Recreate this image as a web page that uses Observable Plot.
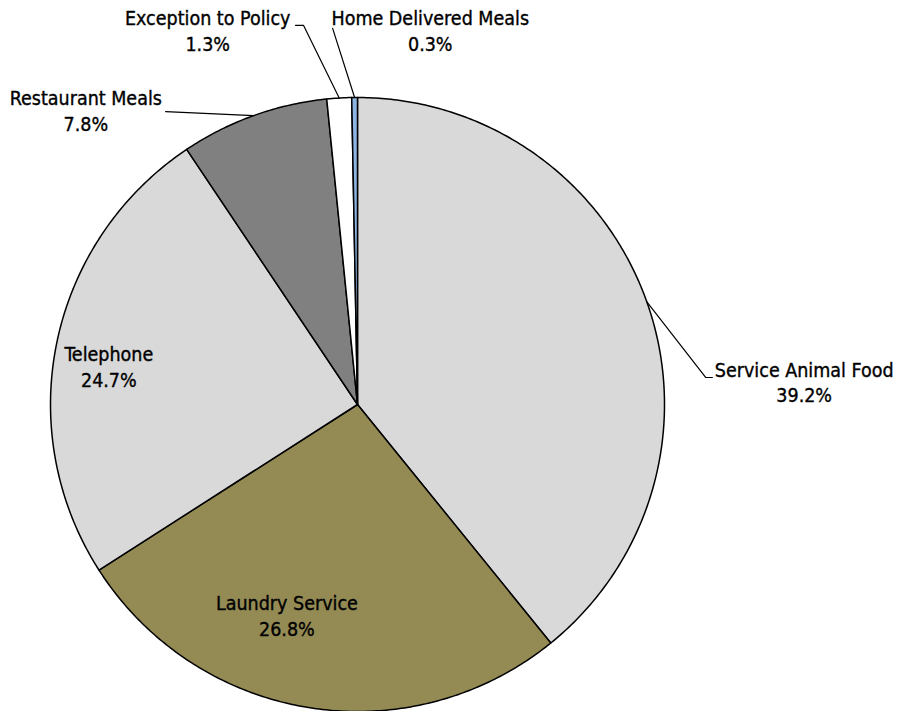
<!DOCTYPE html>
<html><head><meta charset="utf-8">
<script src="https://cdn.jsdelivr.net/npm/d3@7"></script>
<script src="https://cdn.jsdelivr.net/npm/@observablehq/plot@0.6"></script>
<style>
html,body{margin:0;padding:0;background:#fff;}
#chart{width:898px;height:711px;}
</style>
</head><body><div id="chart"></div>
<script>
// ---- data ----
const categories = ["Service Animal Food","Laundry Service","Telephone","Restaurant Meals","Exception to Policy","Home Delivered Meals"];
const values = [39.2, 26.8, 24.7, 7.8, 1.3, 0.3];
const valueLabels = ["39.2%","26.8%","24.7%","7.8%","1.3%","0.3%"];
const colors = ["#d9d9d9","#948a54","#d9d9d9","#808080","#ffffff","#8db4e2"];

// ---- layout (unit-circle coordinates, radius = 1) ----
const W = 898, H = 711, R = 307, CX = 357, CY = 404;
const labelPos = [
  [1.455, 0.076],  // Service Animal Food
  [-0.23, -0.685], // Laundry
  [-0.81, 0.125],  // Telephone
  [-0.885, 0.96],  // Restaurant
  [-0.488, 1.22],  // Exception
  [0.237, 1.22]    // Home Delivered
];
// leader points on the label side, null = none
const leaderEnds = [
  [[1.134, 0.088],[1.156, 0.088]],
  null,
  null,
  [[-0.625, 0.954]],
  [[-0.176, 1.235],[-0.202, 1.235]],
  [[-0.081, 1.225]]
];

const pie = d3.pie().sort(null).value(d => d)(values);
const slices = [];
pie.forEach((p, i) => {
  const n = Math.max(4, Math.ceil((p.endAngle - p.startAngle) / 0.01));
  slices.push({cat: categories[i], u: 0, v: 0});
  for (let j = 0; j <= n; j++) {
    const a = p.startAngle + (p.endAngle - p.startAngle) * j / n;
    slices.push({cat: categories[i], u: Math.sin(a), v: Math.cos(a)});
  }
  slices.push({cat: categories[i], u: 0, v: 0});
});

const leaders = [];
pie.forEach((p, i) => {
  if (!leaderEnds[i]) return;
  const a = (p.startAngle + p.endAngle) / 2;
  leaders.push({cat: categories[i], u: Math.sin(a), v: Math.cos(a)});
  leaderEnds[i].forEach(e => leaders.push({cat: categories[i], u: e[0], v: e[1]}));
});

const labels = categories.map((c, i) => ({cat: c, text: c + "\n" + valueLabels[i], u: labelPos[i][0], v: labelPos[i][1]}));

const chart = Plot.plot({
  width: W, height: H,
  margin: 0,
  x: {domain: [-CX / R, (W - CX) / R], range: [0, W], axis: null},
  y: {domain: [(CY - H) / R, CY / R], range: [H, 0], axis: null},
  color: {domain: categories, range: colors},
  style: {fontFamily: "'Liberation Sans Narrow','DejaVu Sans Condensed',sans-serif", background: "#fff"},
  marks: [
    Plot.line(slices, {x: "u", y: "v", z: "cat", fill: "cat", stroke: "#000", strokeWidth: 1.5, curve: "linear", strokeLinejoin: "round"}),
    Plot.line(leaders, {x: "u", y: "v", z: "cat", stroke: "#000", strokeWidth: 1.2, curve: "linear"}),
    Plot.text(labels, {x: "u", y: "v", text: "text", fontSize: 19.5, fill: "#000", stroke: "#000", strokeWidth: 0.35, lineHeight: 1.33, textAnchor: "middle"})
  ]
});
document.getElementById("chart").appendChild(chart);
</script>
</body></html>
